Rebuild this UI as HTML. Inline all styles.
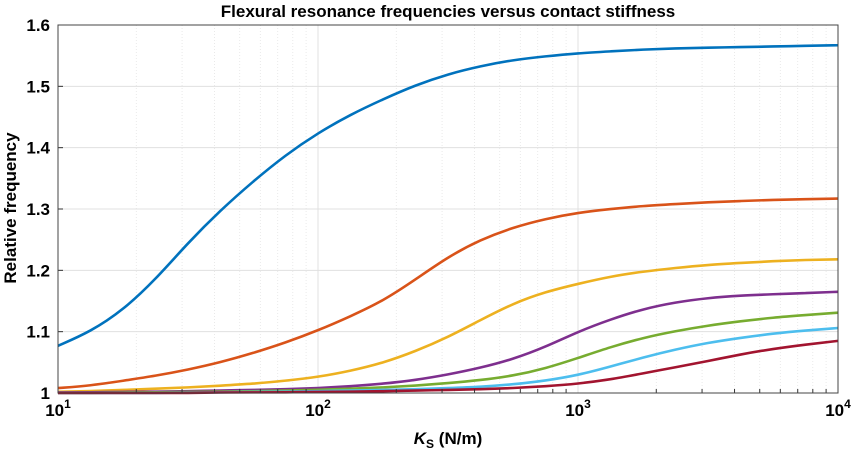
<!DOCTYPE html>
<html><head><meta charset="utf-8"><style>
body{margin:0;background:#fff;}
svg text{font-family:"Liberation Sans",sans-serif;font-weight:bold;fill:#000;}
</style></head><body>
<svg id="chart" width="854" height="451" xmlns="http://www.w3.org/2000/svg">
<text x="448" y="17" font-size="17" text-anchor="middle">Flexural resonance frequencies versus contact stiffness</text>
<g id="grid"></g>
<g id="series"></g>
<g id="axes"></g>
<text transform="translate(16,208) rotate(-90)" font-size="17" text-anchor="middle">Relative frequency</text>
<text x="448" y="444" font-size="17" text-anchor="middle"><tspan font-style="italic">K</tspan><tspan font-size="12" dy="4">S</tspan><tspan dy="-4"> (N/m)</tspan></text>
</svg>
<script>
const logX = [1,1.125,1.25,1.375,1.5,1.625,1.75,1.875,2,2.125,2.25,2.375,2.5,2.625,2.75,2.875,3,3.125,3.25,3.375,3.5,3.625,3.75,3.875,4];
const mode1 = [1.077,1.100,1.135,1.185,1.245,1.298,1.345,1.388,1.424,1.454,1.479,1.502,1.520,1.533,1.543,1.549,1.554,1.557,1.560,1.562,1.563,1.564,1.565,1.566,1.567];
const mode2 = [1.008,1.012,1.020,1.028,1.038,1.050,1.065,1.082,1.102,1.125,1.150,1.185,1.222,1.250,1.270,1.284,1.294,1.300,1.305,1.308,1.311,1.313,1.315,1.316,1.317];
const mode3 = [1.002,1.003,1.005,1.007,1.009,1.012,1.015,1.020,1.026,1.036,1.049,1.068,1.091,1.119,1.146,1.165,1.178,1.190,1.198,1.204,1.209,1.212,1.215,1.217,1.218];
const mode4 = [1.001,1.001,1.002,1.002,1.003,1.004,1.005,1.006,1.008,1.011,1.015,1.021,1.030,1.041,1.055,1.075,1.100,1.120,1.137,1.148,1.155,1.159,1.161,1.163,1.165];
const mode5 = [1.0,1.0,1.001,1.001,1.002,1.002,1.003,1.004,1.005,1.007,1.009,1.012,1.016,1.021,1.028,1.040,1.057,1.075,1.090,1.101,1.110,1.117,1.123,1.127,1.131];
const mode6 = [1.0,1.0,1.0,1.0,1.001,1.001,1.002,1.002,1.003,1.004,1.005,1.006,1.008,1.010,1.014,1.020,1.029,1.043,1.058,1.071,1.082,1.090,1.097,1.102,1.106];
const mode7 = [1.0,1.0,1.0,1.0,1.0,1.001,1.001,1.001,1.002,1.002,1.003,1.004,1.005,1.006,1.008,1.011,1.015,1.022,1.032,1.042,1.052,1.063,1.072,1.079,1.085];
const colors = ["#0072BD","#D95319","#EDB120","#7E2F8E","#77AC30","#4DBEEE","#A2142F"];
const yTicks = [1,1.1,1.2,1.3,1.4,1.5,1.6];
const yTickLabels = ["1","1.1","1.2","1.3","1.4","1.5","1.6"];
const xDecades = [1,2,3,4];
const L=58,R=838,T=25,B=393;
const xs = lx => L+(lx-1)/3*(R-L);
const ys = v => B-(v-1)/0.6*(B-T);
const NS="http://www.w3.org/2000/svg";
function mk(tag,attrs,parent){const e=document.createElementNS(NS,tag);for(const k in attrs)e.setAttribute(k,attrs[k]);parent.appendChild(e);return e;}
const grid=document.getElementById('grid'),axes=document.getElementById('axes'),ser=document.getElementById('series');
for(let d=1;d<4;d++)for(let m=2;m<=9;m++){const x=xs(d+Math.log10(m));
 const g=mk('line',{x1:x,x2:x,y1:T,y2:B,stroke:'#e4e4e4','stroke-width':0.8,'stroke-dasharray':'1,2'},grid);
 
 const t=mk('line',{x1:x,x2:x,y1:B,y2:B-4,stroke:'#333','stroke-width':1},axes);
 }
xDecades.forEach(d=>{const x=xs(d);
 const g=mk('line',{x1:x,x2:x,y1:T,y2:B,stroke:'#e0e0e0','stroke-width':1},grid);
 
 const t=mk('text',{x:x,y:416,'font-size':17,'text-anchor':'middle'},axes);
 
 t.innerHTML='10<tspan font-size="12" dy="-8">'+d+'</tspan>';});
yTicks.forEach((v,i)=>{const y=ys(v);
 const g=mk('line',{x1:L,x2:R,y1:y,y2:y,stroke:'#e0e0e0','stroke-width':1},grid);
 
 const t=mk('text',{x:L-8,y:y+6,'font-size':17,'text-anchor':'end'},axes);
 
 t.textContent=yTickLabels[i];
 const k=mk('line',{x1:L,x2:L+5,y1:y,y2:y,stroke:'#333'},axes);
 });
const box=mk('rect',{x:L,y:T,width:R-L,height:B-T,fill:'none',stroke:'#444','stroke-width':1},axes);

// uniform cubic B-spline through the data points as control points (clamped ends)
function path(vals){
 let p=logX.map((l,i)=>[xs(l),ys(vals[i])]);
 p=[p[0],p[0],...p,p[p.length-1],p[p.length-1]];
 let d='';
 for(let i=0;i<p.length-3;i++){
  const a=p[i],b=p[i+1],c=p[i+2],e=p[i+3];
  const s=[(a[0]+4*b[0]+c[0])/6,(a[1]+4*b[1]+c[1])/6];
  const c1=[(2*b[0]+c[0])/3,(2*b[1]+c[1])/3];
  const c2=[(b[0]+2*c[0])/3,(b[1]+2*c[1])/3];
  const en=[(b[0]+4*c[0]+e[0])/6,(b[1]+4*c[1]+e[1])/6];
  if(i===0)d='M'+s[0]+','+s[1];
  d+=' C'+c1[0]+','+c1[1]+' '+c2[0]+','+c2[1]+' '+en[0]+','+en[1];
 }
 return d;}
[mode1,mode2,mode3,mode4,mode5,mode6,mode7].forEach((m,i)=>{
 const e=mk('path',{d:path(m),fill:'none',stroke:colors[i],'stroke-width':2.6},ser);
 });
</script>
</body></html>
